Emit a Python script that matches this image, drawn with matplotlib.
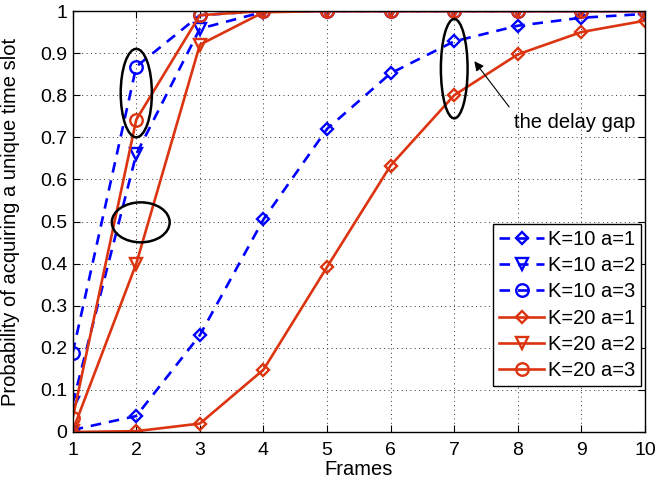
import matplotlib
matplotlib.use("Agg")
import matplotlib.pyplot as plt
from matplotlib.patches import Ellipse

frames = [1, 2, 3, 4, 5, 6, 7, 8, 9, 10]
k10_a1 = [0.005, 0.038, 0.23, 0.505, 0.72, 0.852, 0.928, 0.965, 0.984, 0.993]
k10_a2 = [0.068, 0.66, 0.958, 0.998, 1.0, 1.0, 1.0, 1.0, 1.0, 1.0]
k10_a3 = [0.188, 0.868, 0.99, 1.0, 1.0, 1.0, 1.0, 1.0, 1.0, 1.0]
k20_a1 = [0.0, 0.002, 0.02, 0.148, 0.392, 0.633, 0.8, 0.897, 0.95, 0.977]
k20_a2 = [0.003, 0.40, 0.92, 0.997, 1.0, 1.0, 1.0, 1.0, 1.0, 1.0]
k20_a3 = [0.033, 0.742, 0.99, 1.0, 1.0, 1.0, 1.0, 1.0, 1.0, 1.0]
labels = ["K=10 a=1", "K=10 a=2", "K=10 a=3", "K=20 a=1", "K=20 a=2", "K=20 a=3"]

plt.rcParams['font.family'] = ['Liberation Sans', 'DejaVu Sans']
blue = '#0000ff'
red = '#dc3410'

fig = plt.figure(figsize=(6.69, 4.83), dpi=100)
ax = fig.add_axes([72.7/669, 1 - 432/483, (645 - 72.7)/669, (432 - 11)/483])

series = [(k10_a1, blue, '--', 'D', 6.5), (k10_a2, blue, '--', 'v', 9), (k10_a3, blue, '--', 'o', 9),
          (k20_a1, red, '-', 'D', 6.5), (k20_a2, red, '-', 'v', 9), (k20_a3, red, '-', 'o', 9)]
for (vals, c, ls, m, ms), lab in zip(series, labels):
    ax.plot(frames, vals, color=c, linestyle=ls, marker=m, markersize=ms, markerfacecolor='none',
            markeredgewidth=1.7, linewidth=1.9, label=lab, dashes=(4, 3) if ls == '--' else (None, None))

ax.set_xlim(1, 10)
ax.set_ylim(0, 1)
ax.set_xticks(range(1, 11))
ax.set_yticks([i / 10 for i in range(11)])
ax.set_yticklabels(['0', '0.1', '0.2', '0.3', '0.4', '0.5', '0.6', '0.7', '0.8', '0.9', '1'])
ax.grid(True, linestyle=(0, (1, 3.5)), color='#333333', linewidth=0.7)
ax.tick_params(direction='in', labelsize=14, length=5, top=True, right=True)
ax.tick_params(axis='x', pad=7)
ax.tick_params(axis='y', pad=4)
for s in ax.spines.values():
    s.set_linewidth(1.0)
ax.set_xlabel('Frames', fontsize=14.5)
ax.set_ylabel('Probability of acquiring a unique time slot', fontsize=14.5)
ax.xaxis.set_label_coords(0.5, -0.088)
ax.xaxis.label.set_va('center')
ax.yaxis.set_label_coords(-0.108, 0.5)
ax.yaxis.label.set_va('center')

for (cx, cy, w, h) in [(2.0, 0.805, 0.49, 0.21), (2.07, 0.498, 0.91, 0.095), (7.0, 0.863, 0.42, 0.236)]:
    ax.add_patch(Ellipse((cx, cy), w, h, fill=False, edgecolor='black', linewidth=1.8, zorder=5))

ax.annotate('', xy=(7.29, 0.886), xytext=(7.89, 0.767),
            arrowprops=dict(arrowstyle='-|>', color='black', linewidth=0.8, mutation_scale=14))
ax.text(7.94, 0.736, 'the delay gap', fontsize=14.5, va='center', ha='left')

leg = ax.legend(loc='lower right', bbox_to_anchor=(0.993, 0.109), fontsize=14.5, frameon=True,
                fancybox=False, edgecolor='black', framealpha=1, handlelength=2.2,
                labelspacing=0.36, borderpad=0.3, handletextpad=0.2, borderaxespad=0)
leg.get_frame().set_linewidth(1.0)

fig.savefig('out.png', dpi=100)
